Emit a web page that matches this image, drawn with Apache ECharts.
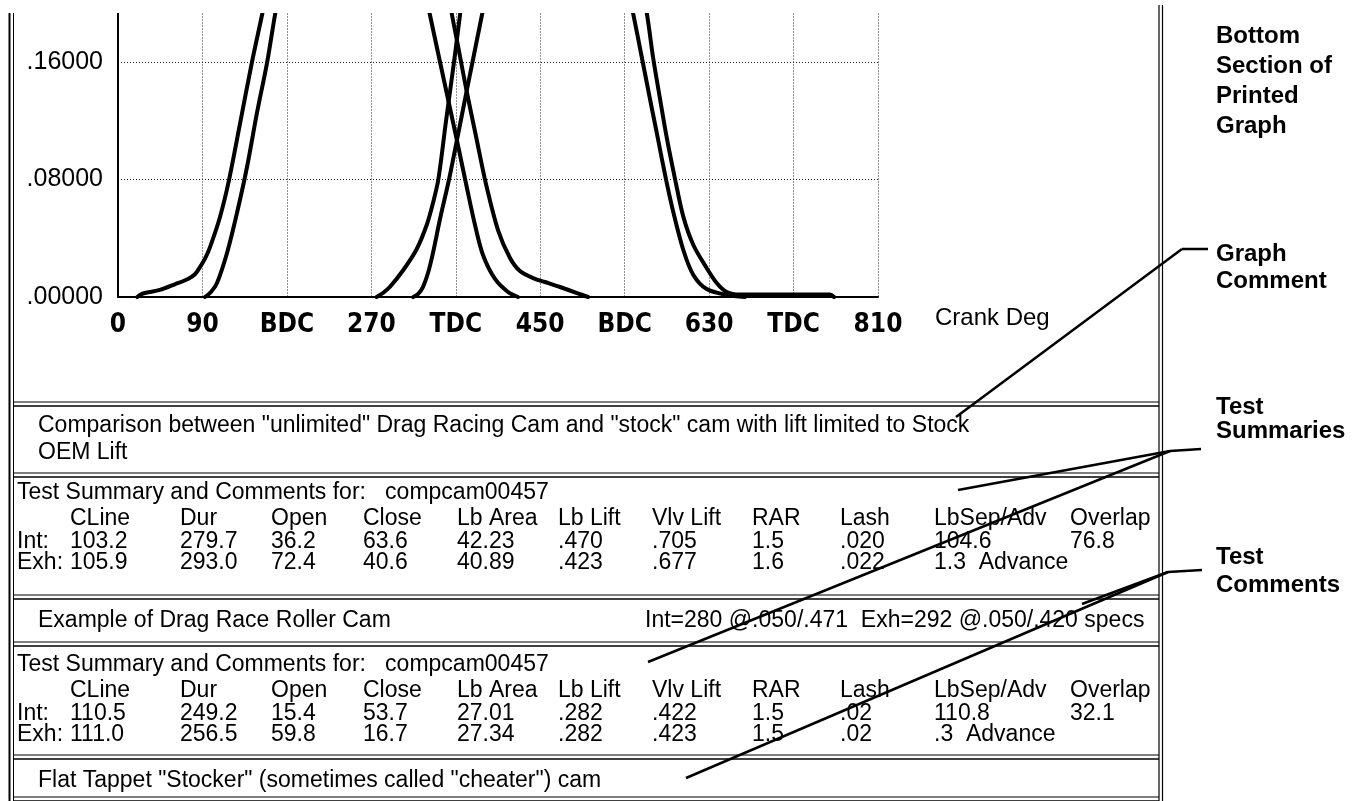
<!DOCTYPE html>
<html>
<head>
<meta charset="utf-8">
<script src="https://cdn.jsdelivr.net/npm/echarts@6.0.0/dist/echarts.min.js"></script>
<style>
html, body { margin: 0; padding: 0; background: #fff; }
#main { width: 1360px; height: 801px; }
</style>
</head>
<body>
<div id="main"></div>
<script>
// crank degree tick names, every 90 deg
var xTickNames = ['0', '90', 'BDC', '270', 'TDC', '450', 'BDC', '630', 'TDC', '810'];

// lift curves [crank deg, lift] - only the bottom section is on the page
var exhOpenA = [[20.5,0],[26,0.0022],[44.8,0.0048],[60,0.0085],[74.6,0.0123],[82,0.0155],[87.4,0.0204],[93,0.0265],[98.1,0.034],[108.7,0.0545],[118.3,0.0796],[130,0.1178],[142.8,0.16],[153.5,0.192],[160,0.212]];
var exhOpenB = [[92.7,0],[99.1,0.0034],[105.5,0.0095],[116.2,0.030],[126.8,0.0572],[137.5,0.0885],[148.1,0.1253],[158.8,0.1593],[167.3,0.192],[173.7,0.2145]];
var exhCloseB = [[327.2,0.209],[332.5,0.192],[343.2,0.16],[353.8,0.1287],[363.4,0.1001],[371.9,0.0742],[380.5,0.049],[389.0,0.0286],[401.8,0.0123],[415.7,0.0034],[426.3,0]];
var exhCloseA = [[350.6,0.2124],[356.0,0.192],[362.4,0.1709],[370.9,0.1423],[381.5,0.1096],[392.2,0.0769],[405.0,0.0456],[417.8,0.0266],[428.4,0.0177],[442.3,0.0129],[455.1,0.0102],[471.1,0.0068],[489.2,0.0027],[500.9,0]];
var intOpenA = [[275.7,0],[282.4,0.0027],[289.9,0.007],[304.1,0.0184],[318.4,0.0327],[329.0,0.049],[335.7,0.064],[341.4,0.08],[349.6,0.1198],[358.1,0.16],[364.5,0.192],[367.7,0.209]];
var intOpenB = [[314.7,0],[319.7,0.002],[325.0,0.0068],[330.4,0.0163],[335.7,0.03],[343.2,0.0531],[352.8,0.08],[362.4,0.1106],[370.9,0.1379],[377.3,0.1583],[387.9,0.192],[393.3,0.209]];
var intCloseB = [[543.6,0.209],[548.9,0.1934],[558.2,0.1634],[567.0,0.1348],[575.5,0.1076],[584.0,0.0803],[591.8,0.0579],[602.5,0.032],[613.2,0.015],[627.4,0.0054],[648.7,0.0014],[668.2,0]];
var intCloseA = [[557.4,0.209],[563.5,0.1934],[570.2,0.1634],[577.7,0.1348],[585.1,0.1076],[593.7,0.0803],[602.5,0.0547],[613.2,0.0354],[627.4,0.0197],[638.1,0.0095],[648.7,0.0034],[662.9,0.0017],[758.8,0.0017],[763.1,0]];

// text of the printed sections
var graphComment = ['Comparison between "unlimited" Drag Racing Cam and "stock" cam with lift limited to Stock', 'OEM Lift'];
var summaryTitle = 'Test Summary and Comments for:   compcam00457';
var summaryHeads = ['CLine', 'Dur', 'Open', 'Close', 'Lb Area', 'Lb Lift', 'Vlv Lift', 'RAR', 'Lash', 'LbSep/Adv', 'Overlap'];
var test1Int = ['103.2', '279.7', '36.2', '63.6', '42.23', '.470', '.705', '1.5', '.020', '104.6', '76.8'];
var test1Exh = ['105.9', '293.0', '72.4', '40.6', '40.89', '.423', '.677', '1.6', '.022', '1.3  Advance'];
var test1Comment = 'Example of Drag Race Roller Cam';
var test1Specs = 'Int=280 @.050/.471  Exh=292 @.050/.420 specs';
var test2Int = ['110.5', '249.2', '15.4', '53.7', '27.01', '.282', '.422', '1.5', '.02', '110.8', '32.1'];
var test2Exh = ['111.0', '256.5', '59.8', '16.7', '27.34', '.282', '.423', '1.5', '.02', '.3  Advance'];
var test2Comment = 'Flat Tappet "Stocker" (sometimes called "cheater") cam';
var sideNotes = [['Bottom', 'Section of', 'Printed', 'Graph'], ['Graph', 'Comment'], ['Test', 'Summaries'], ['Test', 'Comments']];

// layout (pixels)
var colX = [70, 180, 271, 363, 457, 558, 652, 752, 840, 934, 1070];
var sideY = [[36, 66, 96, 126], [254, 281], [407, 431], [557, 585]];
var boxL = 13, boxR = 1159;
var bodyFont = '23px "Liberation Sans", Arial, sans-serif';
var noteFont = 'bold 24px "Liberation Sans", Arial, sans-serif';

var chart = echarts.init(document.getElementById('main'));

function txt(s, x, y, font) {
    return {
        type: 'text', z: 100,
        style: { text: s, x: x, y: y, font: font || bodyFont, fill: '#000',
                 textAlign: 'left', textVerticalAlign: 'middle', align: 'left', verticalAlign: 'middle' }
    };
}
function seg(x1, y1, x2, y2, w) {
    return { type: 'line', z: 101, shape: { x1: x1, y1: y1, x2: x2, y2: y2 },
             style: { stroke: '#000', lineWidth: w || 2.5 } };
}
function dbl(y) {
    return [seg(boxL, y - 2, boxR, y - 2, 1.2), seg(boxL, y + 2, boxR, y + 2, 1.6)];
}
function summary(top, intVals, exhVals) {
    var out = [txt(summaryTitle, 17, top)];
    summaryHeads.forEach(function (h, i) { out.push(txt(h, colX[i], top + 26)); });
    out.push(txt('Int:', 17, top + 49));
    intVals.forEach(function (v, i) { out.push(txt(v, colX[i], top + 49)); });
    out.push(txt('Exh:', 17, top + 70));
    exhVals.forEach(function (v, i) { out.push(txt(v, colX[i], top + 70)); });
    return out;
}

var graphic = [
    // scan edge above the graph
    { type: 'rect', z: 99, shape: { x: 14, y: 0, width: 1144, height: 13 }, style: { fill: '#fff' } },
    seg(9.5, 13, 9.5, 801, 2), seg(13.5, 13, 13.5, 801, 1),
    seg(1159, 5, 1159, 801, 1.2), seg(1162.5, 5, 1162.5, 801, 1.2),
    txt('Crank Deg', 935, 318, '24px "Liberation Sans", Arial, sans-serif'),
    txt(graphComment[0], 38, 426), txt(graphComment[1], 38, 453),
    txt(test1Comment, 38, 621), txt(test1Specs, 645, 621),
    txt(test2Comment, 38, 781)
];
[404, 475, 597, 644, 757, 799].forEach(function (y) { graphic = graphic.concat(dbl(y)); });
graphic = graphic.concat(summary(493, test1Int, test1Exh), summary(665, test2Int, test2Exh));
sideNotes.forEach(function (lines, k) {
    lines.forEach(function (s, j) { graphic.push(txt(s, 1216, sideY[k][j], noteFont)); });
});
// pointer lines for the side notes
graphic.push(
    seg(1182, 249, 1208, 249), seg(1182, 249, 956, 417),
    seg(1170, 451, 1201, 449), seg(1170, 451, 958, 490), seg(1170, 451, 648, 662),
    seg(1168, 572, 1202, 570), seg(1168, 572, 1082, 604), seg(1168, 572, 686, 778)
);

function curve(d) {
    return { type: 'line', data: d, symbol: 'none', smooth: 0.3,
             lineStyle: { color: '#000', width: 4, cap: 'round', join: 'round' }, silent: true };
}

var option = {
    backgroundColor: '#fff',
    animation: false,
    grid: { left: 118, right: 482, top: -55.5, bottom: 504, outerBoundsMode: 'none', containLabel: false },
    xAxis: {
        type: 'value', min: 0, max: 810, interval: 90,
        axisLine: { lineStyle: { color: '#000', width: 2 } },
        axisTick: { show: false },
        splitLine: { show: true, lineStyle: { color: '#222', width: 1, type: [1, 2] } },
        axisLabel: {
            color: '#000', fontSize: 26, fontWeight: 'bold', margin: 15,
            fontFamily: '"Liberation Sans Narrow", "Arial Narrow", "DejaVu Sans Condensed", sans-serif',
            formatter: function (v) { return xTickNames[Math.round(v / 90)]; }
        }
    },
    yAxis: {
        type: 'value', min: 0, max: 0.24, interval: 0.08,
        axisLine: { show: true, lineStyle: { color: '#000', width: 2 } },
        axisTick: { show: false },
        splitLine: { show: true, lineStyle: { color: '#222', width: 1, type: [1, 2] } },
        axisLabel: {
            color: '#000', fontSize: 25, margin: 15,
            fontFamily: '"Liberation Sans", Arial, sans-serif',
            formatter: function (v) { return v.toFixed(5).replace(/^0/, ''); }
        }
    },
    series: [exhOpenA, exhOpenB, exhCloseB, exhCloseA, intOpenA, intOpenB, intCloseB, intCloseA].map(curve),
    graphic: graphic
};
chart.setOption(option);
</script>
</body>
</html>
